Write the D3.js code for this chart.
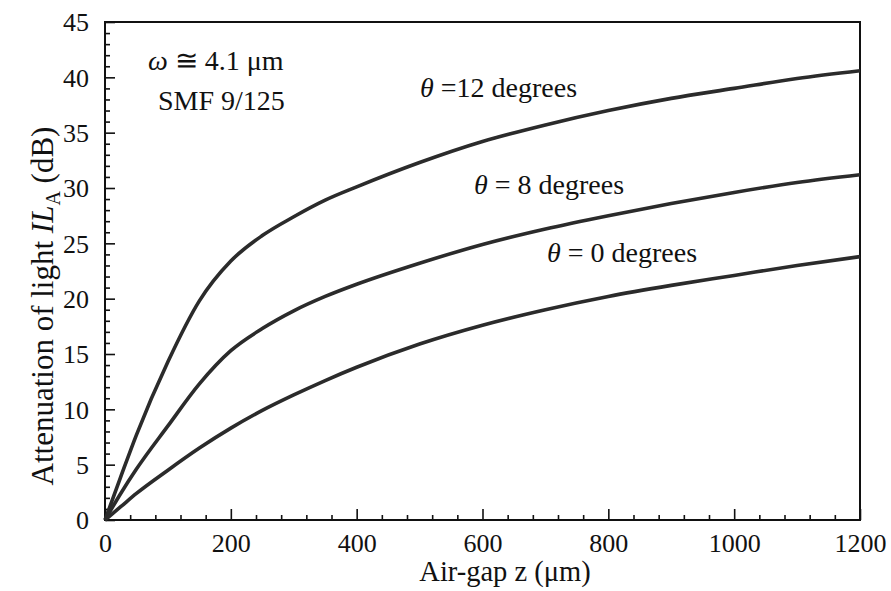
<!DOCTYPE html>
<meta charset="utf-8">
<style>
body { margin: 0; background: #fff; }
svg text { font-family: "Liberation Serif", "DejaVu Serif", "Times New Roman", serif; fill: #111; }
.axis path { display: none; }
.axis line { stroke: #111; stroke-width: 1.6px; }
.frame { fill: none; stroke: #111; stroke-width: 2px; }
.curve { fill: none; stroke: #2b2b2b; stroke-width: 3.6px; stroke-linejoin: round; }
</style>
<svg width="891" height="591"></svg>
<script src="https://cdn.jsdelivr.net/npm/d3@7"></script>
<script>
// air gap z (um)
var gap = [0, 25, 50, 100, 150, 200, 250, 300, 350, 400, 500, 600, 700, 800, 900, 1000, 1100, 1200];
// attenuation IL_A (dB) for each tilt angle
var deg12 = [0, 3.9, 7.7, 14.3, 19.8, 23.4, 25.7, 27.4, 28.9, 30.1, 32.3, 34.2, 35.7, 37.0, 38.1, 39.0, 39.9, 40.6];
var deg8  = [0, 2.4, 4.6, 8.5, 12.3, 15.3, 17.3, 18.9, 20.2, 21.3, 23.2, 24.9, 26.3, 27.5, 28.6, 29.6, 30.5, 31.2];
var deg0  = [0, 1.2, 2.4, 4.5, 6.5, 8.3, 9.9, 11.3, 12.6, 13.8, 15.9, 17.6, 19.0, 20.2, 21.2, 22.1, 23.0, 23.8];
var xTicks = [0, 200, 400, 600, 800, 1000, 1200];
var yTicks = [0, 5, 10, 15, 20, 25, 30, 35, 40, 45];

var serif = "'Liberation Serif', 'DejaVu Serif', serif";

var svg = d3.select("svg"),
    margin = {top: 22, right: 31, bottom: 71, left: 105},
    width = 891 - margin.left - margin.right,
    height = 591 - margin.top - margin.bottom,
    g = svg.append("g").attr("transform", "translate(" + margin.left + "," + margin.top + ")");

var x = d3.scaleLinear().domain([0, 1200]).range([0, width]),
    y = d3.scaleLinear().domain([0, 45]).range([height, 0]);

// minor ticks first, then the major ones with labels
g.append("g")
    .attr("class", "axis")
    .attr("transform", "translate(0," + height + ")")
    .call(d3.axisBottom(x).tickValues(d3.range(0, 1201, 40).filter(function(v) { return v % 200; })).tickSize(-5).tickFormat(""));
g.append("g")
    .attr("class", "axis")
    .call(d3.axisLeft(y).tickValues(d3.range(0, 46, 1).filter(function(v) { return v % 5; })).tickSize(-5).tickFormat(""));

var xAxis = g.append("g")
    .attr("class", "axis")
    .attr("transform", "translate(0," + height + ")")
    .call(d3.axisBottom(x).tickValues(xTicks).tickSize(-11).tickPadding(14).tickFormat(d3.format("d")));
xAxis.attr("font-family", serif).attr("font-size", 26);
xAxis.selectAll("text").attr("dy", "0.71em");

var yAxis = g.append("g")
    .attr("class", "axis")
    .call(d3.axisLeft(y).tickValues(yTicks).tickSize(-10).tickPadding(16));
yAxis.attr("font-family", serif).attr("font-size", 26);
yAxis.selectAll("text").attr("dy", "0.34em");

g.append("rect")
    .attr("class", "frame")
    .attr("width", width)
    .attr("height", height);

var line = d3.line()
    .curve(d3.curveMonotoneX)
    .x(function(d) { return x(d[0]); })
    .y(function(d) { return y(d[1]); });

[deg12, deg8, deg0].forEach(function(s) {
  g.append("path")
      .attr("class", "curve")
      .attr("d", line(gap.map(function(z, i) { return [z, s[i]]; })));
});

// annotations
function note(px, py, size, parts) {
  var t = svg.append("text").attr("x", px).attr("y", py)
      .attr("font-family", serif).style("font-size", size + "px");
  parts.forEach(function(p) {
    var ts = t.append("tspan").text(p.t);
    if (p.i) ts.style("font-style", "italic");
  });
  return t;
}
note(148, 70, 28, [{t: "\u03c9", i: true}, {t: " \u2245  4.1 \u03bcm"}]);
note(158, 110, 28, [{t: "SMF 9/125"}]);
note(420, 97, 28, [{t: "\u03b8", i: true}, {t: " =12 degrees"}]);
note(474, 194, 28, [{t: "\u03b8", i: true}, {t: " = 8 degrees"}]);
note(547, 262, 28, [{t: "\u03b8", i: true}, {t: " = 0 degrees"}]);

svg.append("text")
    .attr("x", 505)
    .attr("y", 581)
    .attr("text-anchor", "middle")
    .attr("font-family", serif)
    .style("font-size", "28.5px")
    .text("Air-gap z (\u03bcm)");

var yt = svg.append("text")
    .attr("transform", "translate(53,306) rotate(-90)")
    .attr("text-anchor", "middle")
    .attr("font-family", serif)
    .style("font-size", "31px");
yt.append("tspan").text("Attenuation of light ");
yt.append("tspan").style("font-style", "italic").text("IL");
yt.append("tspan").attr("dy", 7).style("font-size", "20px").text("A");
yt.append("tspan").attr("dy", -7).text(" (dB)");
</script>
